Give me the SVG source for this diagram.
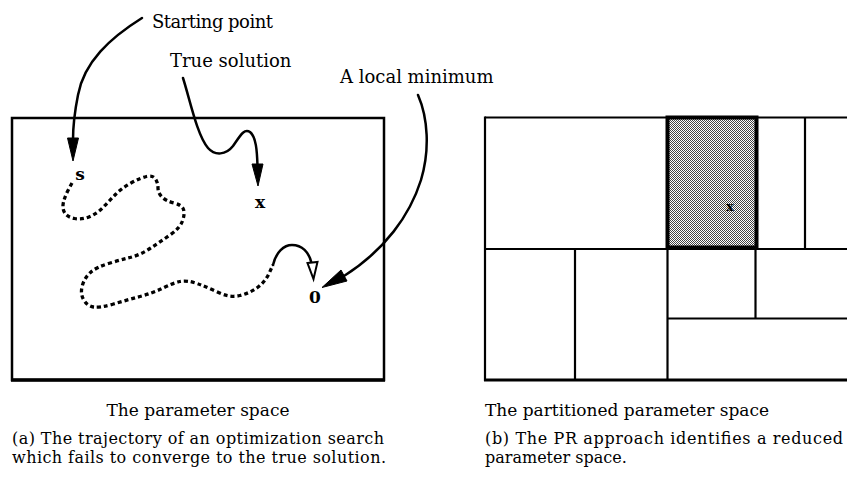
<svg xmlns="http://www.w3.org/2000/svg" width="847" height="494" viewBox="0 0 847 494">
  <style>
    .lbl { font-family: "DejaVu Serif", "Liberation Serif", serif; font-size: 18px; fill: #000; }
    .cap { font-family: "DejaVu Serif", "Liberation Serif", serif; font-size: 17px; fill: #000; }
    .cap2 { font-family: "DejaVu Serif", "Liberation Serif", serif; font-size: 16px; fill: #000; }
    .pt  { font-family: "DejaVu Serif", "Liberation Serif", serif; font-size: 17px; font-weight: bold; fill: #000; }
    .frame { fill: none; stroke: #000; stroke-width: 2.5; }
    .grid { stroke: #000; stroke-width: 2.2; fill: none; }
    .curve { fill: none; stroke: #000; stroke-width: 2.5; stroke-linecap: round; }
    .trail { fill: none; stroke: #000; stroke-width: 3.3; stroke-dasharray: 4 3; }
    .head { fill: #000; stroke: #000; stroke-width: 1; stroke-linejoin: miter; }
    .openhead { fill: #fff; stroke: #000; stroke-width: 2; }
  </style>
  <defs>
    <pattern id="stipple" width="2" height="2" patternUnits="userSpaceOnUse">
      <rect width="2" height="2" fill="#fff"/>
      <rect x="0" y="0" width="1" height="1" fill="#444"/>
      <rect x="1" y="1" width="1" height="1" fill="#444"/>
    </pattern>
  </defs>

  <rect width="847" height="494" fill="#fff"/>

  <!-- Panel (a): the parameter space -->
  <g id="space-a">
    <rect class="frame" x="12" y="118" width="372" height="262"/>
    <line x1="11" y1="380" x2="385" y2="380" stroke="#000" stroke-width="3.5"/>
  </g>

  <g id="point-s"><text class="pt" x="80" y="180" text-anchor="middle">s</text></g>
  <g id="point-x"><text class="pt" x="260" y="208" text-anchor="middle">x</text></g>
  <g id="point-0"><text class="pt" x="315" y="303" text-anchor="middle">0</text></g>

  <g id="label-start"><text class="lbl" x="152" y="28" textLength="121">Starting point</text></g>
  <g id="label-true"><text class="lbl" x="170" y="67">True solution</text></g>
  <g id="label-local"><text class="lbl" x="340" y="83">A local minimum</text></g>

  <g id="connectors">
    <!-- search trajectory -->
    <path class="trail" d="M72,183 L68.5,189.5 Q65,196 63.5,202 Q62,208 64.5,212.5 Q67,217 74.5,218.5 Q82,220 90,216.5 Q98,213 104,206.5 Q110,200 116,194 Q122,188 131,183 Q140,178 146.5,176.5 Q153,175 155.5,179 Q158,183 158,188 Q158,193 162,197 Q166,201 174,203 Q182,205 183.5,209.5 Q185,214 182.5,221 Q180,228 170,235 Q160,242 150,248.5 Q140,255 130,257.5 Q120,260 108.5,263.5 Q97,267 91,272 Q85,277 82.5,285 Q80,293 83.5,299.5 Q87,306 93.5,307 Q100,308 113.5,304 Q127,300 140,296.5 Q153,293 163,288 Q173,283 180,281.5 Q187,280 197,283.5 Q207,287 218.5,292.5 Q230,298 240,295.5 Q250,293 257.5,287.5 Q265,282 269,273.5 L273,265"/>
    <path class="curve" d="M273,265 C276,252 284,245 292,245 C302,245 309,252 311.5,263"/>
    <polygon class="openhead" points="307.5,263 317.5,262 313.5,279"/>

    <!-- Starting point -> s -->
    <path class="curve" d="M142,18 C110,38 84,62 78,95 C74,115 73,125 73,140"/>
    <polygon class="head" points="67.5,138 78.5,138 73,161"/>

    <!-- True solution -> x -->
    <path class="curve" d="M183,78 C190,100 197,135 208,148 C215,156 226,155 233,146 C240,136 244,128 250,132 C256,137 257,150 257.5,166"/>
    <polygon class="head" points="252,164 263,164 258,186"/>

    <!-- A local minimum -> 0 -->
    <path class="curve" d="M418,95 C428,118 430,150 421,180 C410,215 385,250 344,276"/>
    <polygon class="head" points="347,281 341,270 322,287.5"/>
  </g>

  <!-- Panel (b): the partitioned parameter space -->
  <g id="space-b">
    <line class="grid" x1="485" y1="117.5" x2="847" y2="117.5"/>
    <line class="grid" x1="485" y1="116.5" x2="485" y2="381"/>
    <line x1="484" y1="380" x2="847" y2="380" stroke="#000" stroke-width="3"/>
    <line class="grid" x1="485" y1="249" x2="847" y2="249"/>
    <line class="grid" x1="575" y1="249" x2="575" y2="380"/>
    <line class="grid" x1="667.5" y1="249" x2="667.5" y2="380"/>
    <line class="grid" x1="755.5" y1="249" x2="755.5" y2="318.5"/>
    <line class="grid" x1="667.5" y1="318.5" x2="847" y2="318.5"/>
    <line class="grid" x1="805" y1="117.5" x2="805" y2="249"/>
  </g>

  <g id="reduced-cell">
    <rect x="667.5" y="117.5" width="89" height="130" fill="url(#stipple)" stroke="#000" stroke-width="4"/>
    <text x="730" y="211" text-anchor="middle" font-family="DejaVu Serif, serif" font-size="13" font-weight="bold">x</text>
  </g>

  <!-- Captions -->
  <g id="caption-a">
    <text class="cap" x="198" y="416" text-anchor="middle">The parameter space</text>
    <text class="cap2" x="12" y="444" textLength="372">(a) The trajectory of an optimization search</text>
    <text class="cap2" x="12" y="463" textLength="374">which fails to converge to the true solution.</text>
  </g>
  <g id="caption-b">
    <text class="cap" x="627" y="416" text-anchor="middle">The partitioned parameter space</text>
    <text class="cap2" x="485" y="444" textLength="358">(b) The PR approach identifies a reduced</text>
    <text class="cap2" x="485" y="463">parameter space.</text>
  </g>
</svg>
